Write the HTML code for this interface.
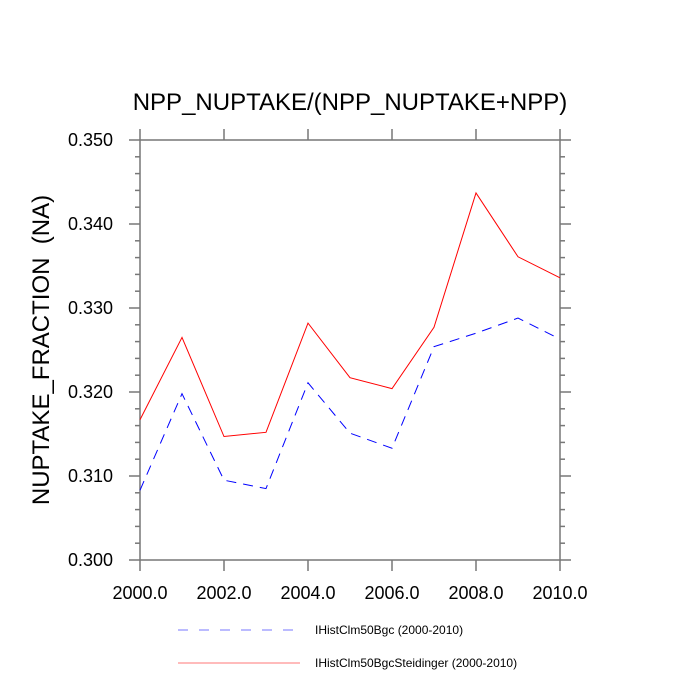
<!DOCTYPE html>
<html><head><meta charset="utf-8"><style>
body{margin:0;background:#fff}
svg{display:block;font-family:"Liberation Sans",sans-serif}
</style></head><body>
<svg width="700" height="700">
<g id="g"></g>
</svg>
<script>
const years=[2000,2001,2002,2003,2004,2005,2006,2007,2008,2009,2010];
const blueVals=[0.3083,0.3198,0.3095,0.3085,0.3211,0.3151,0.3133,0.3254,0.3270,0.3288,0.3263];
const redVals=[0.3167,0.3265,0.3147,0.3152,0.3282,0.3217,0.3204,0.3277,0.3437,0.3361,0.3336];
const yTicks=[0.300,0.310,0.320,0.330,0.340,0.350];
const xTicks=[2000,2002,2004,2006,2008,2010];
const X0=140,X1=560,Y0=140,Y1=560;
const xs=v=>X0+(v-2000)/10*(X1-X0);
const ys=v=>Y1-(v-0.300)/0.05*(Y1-Y0);
const g=document.getElementById('g');
const NS='http://www.w3.org/2000/svg';
function mk(t,a,p){const e=document.createElementNS(NS,t);for(const k in a)e.setAttribute(k,a[k]);(p||g).appendChild(e);return e;}
const ax='#777';
let fr=mk('rect',{x:X0,y:Y0,width:X1-X0,height:Y1-Y0,fill:'none',stroke:ax,'stroke-width':1.5});


for(let i=0;i<=25;i++){const v=0.300+i*0.002;const y=ys(v);const maj=i%5===0;const L=maj?11:5;
 let t=mk('line',{x1:X0-L,x2:X0,y1:y,y2:y,stroke:ax,'stroke-width':1.5});
 
 
 let t2=mk('line',{x1:X1,x2:X1+L,y1:y,y2:y,stroke:ax,'stroke-width':1.5});
 
 }
yTicks.forEach(v=>{let t=mk('text',{x:X0-27,y:ys(v)+6,'text-anchor':'end','font-size':18});t.textContent=v.toFixed(3);
 
 });
xTicks.forEach(v=>{const x=xs(v);
 let t=mk('line',{x1:x,x2:x,y1:Y1,y2:Y1+11,stroke:ax,'stroke-width':1.5});
 
 
 let t2=mk('line',{x1:x,x2:x,y1:Y0-11,y2:Y0,stroke:ax,'stroke-width':1.5});
 
 
 let l=mk('text',{x:x,y:Y1+39,'text-anchor':'middle','font-size':18});l.textContent=v.toFixed(1);
 
 });
function pts(a){return years.map((y,i)=>xs(y)+','+ys(a[i])).join(' ');}
let b=mk('polyline',{points:pts(blueVals),fill:'none',stroke:'#0000ff','stroke-width':1,'stroke-dasharray':'10,7'});


let r=mk('polyline',{points:pts(redVals),fill:'none',stroke:'#ff0000','stroke-width':1});


</script>
<svg width="700" height="700" style="position:absolute;left:0;top:0;font-family:'Liberation Sans',sans-serif">
<text x="350" y="110" text-anchor="middle" font-size="24">NPP_NUPTAKE/(NPP_NUPTAKE+NPP)</text>
<text transform="translate(49,350) rotate(-90)" text-anchor="middle" font-size="24">NUPTAKE_FRACTION&#160;&#160;(NA)</text>
<line x1="178" y1="630" x2="295" y2="630" stroke="#7777ff" stroke-width="1" stroke-dasharray="10,11"/>
<text x="315" y="634" font-size="12">IHistClm50Bgc (2000-2010)</text>
<line x1="178" y1="663" x2="300" y2="663" stroke="#ff7777" stroke-width="1"/>
<text x="315" y="667" font-size="12">IHistClm50BgcSteidinger (2000-2010)</text>
</svg>
</body></html>
